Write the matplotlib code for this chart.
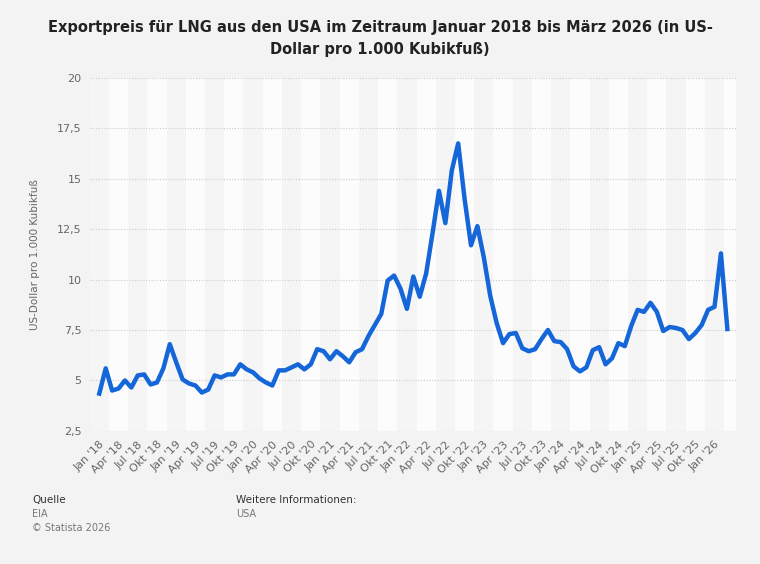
import numpy as np
import matplotlib.pyplot as plt

# Exportpreis LNG USA, monthly Jan 2018 - Mar 2026 (USD per 1,000 cubic feet)
prices = [
    4.35, 5.6, 4.5, 4.6, 5.0, 4.65, 5.25, 5.3, 4.8, 4.9, 5.6, 6.8,
    5.9, 5.05, 4.85, 4.75, 4.4, 4.55, 5.25, 5.15, 5.3, 5.3, 5.8, 5.55,
    5.4, 5.1, 4.9, 4.75, 5.5, 5.5, 5.65, 5.8, 5.55, 5.8, 6.55, 6.45,
    6.05, 6.45, 6.2, 5.9, 6.4, 6.55, 7.2, 7.75, 8.3, 9.95, 10.2, 9.55,
    8.55, 10.15, 9.15, 10.3, 12.3, 14.4, 12.8, 15.4, 16.75, 14.0, 11.7, 12.65,
    11.1, 9.2, 7.85, 6.85, 7.3, 7.35, 6.6, 6.45, 6.55, 7.05, 7.5, 6.95,
    6.9, 6.55, 5.7, 5.45, 5.65, 6.5, 6.65, 5.8, 6.1, 6.85, 6.7, 7.7,
    8.5, 8.4, 8.85, 8.4, 7.45, 7.65, 7.6, 7.5, 7.05, 7.35, 7.75, 8.5,
    8.65, 11.3, 7.55,
]
month_names = ["Jan", "Apr", "Jul", "Okt"]
years = list(range(18, 27))
tick_labels = [f"{m} '{y}" for y in years for m in month_names][:33]
y_ticks = [2.5, 5, 7.5, 10, 12.5, 15, 17.5, 20]

fig = plt.figure(figsize=(7.6, 5.64), dpi=100)
fig.patch.set_facecolor("#f3f3f3")
ax = fig.add_axes([0.118, 0.236, 0.85, 0.626])
ax.set_facecolor("#fcfcfc")

x = np.arange(len(prices))
# faint alternating stripes, one per tick interval
for i in range(0, len(x) + 3, 6):
    ax.axvspan(i - 1.5, i + 1.5, color="#f5f5f5", zorder=0, lw=0)

ax.plot(x, prices, color="#1466d9", lw=3.2, solid_joinstyle="round", zorder=3)

ax.set_xlim(-1.5, len(prices) + 0.3)
ax.set_ylim(2.5, 20)
ax.set_yticks(y_ticks)
ax.set_yticklabels([f"{v:g}".replace(".", ",") for v in y_ticks], fontsize=8, color="#666666")
ax.set_xticks(np.arange(0, len(prices), 3))
ax.set_xticklabels(tick_labels, rotation=45, ha="right", rotation_mode="anchor", fontsize=8, color="#666666")
ax.tick_params(length=0, pad=6)
ax.grid(axis="y", color="#cccccc", ls=(0, (1, 1.5)), lw=0.8)
for s in ax.spines.values():
    s.set_visible(False)
ax.set_ylabel("US-Dollar pro 1.000 Kubikfuß", fontsize=7.5, color="#666666", labelpad=12)

fig.text(0.5, 0.965, "Exportpreis für LNG aus den USA im Zeitraum Januar 2018 bis März 2026 (in US-\nDollar pro 1.000 Kubikfuß)",
         ha="center", va="top", fontsize=10.5, fontweight="bold", color="#222222", linespacing=1.6)

fig.text(0.042, 0.108, "Quelle", fontsize=7.5, color="#333333")
fig.text(0.042, 0.083, "EIA", fontsize=7, color="#777777")
fig.text(0.042, 0.058, "© Statista 2026", fontsize=7, color="#777777")
fig.text(0.311, 0.108, "Weitere Informationen:", fontsize=7.5, color="#333333")
fig.text(0.311, 0.083, "USA", fontsize=7, color="#777777")

fig.savefig("out.png", dpi=100, facecolor=fig.get_facecolor())
